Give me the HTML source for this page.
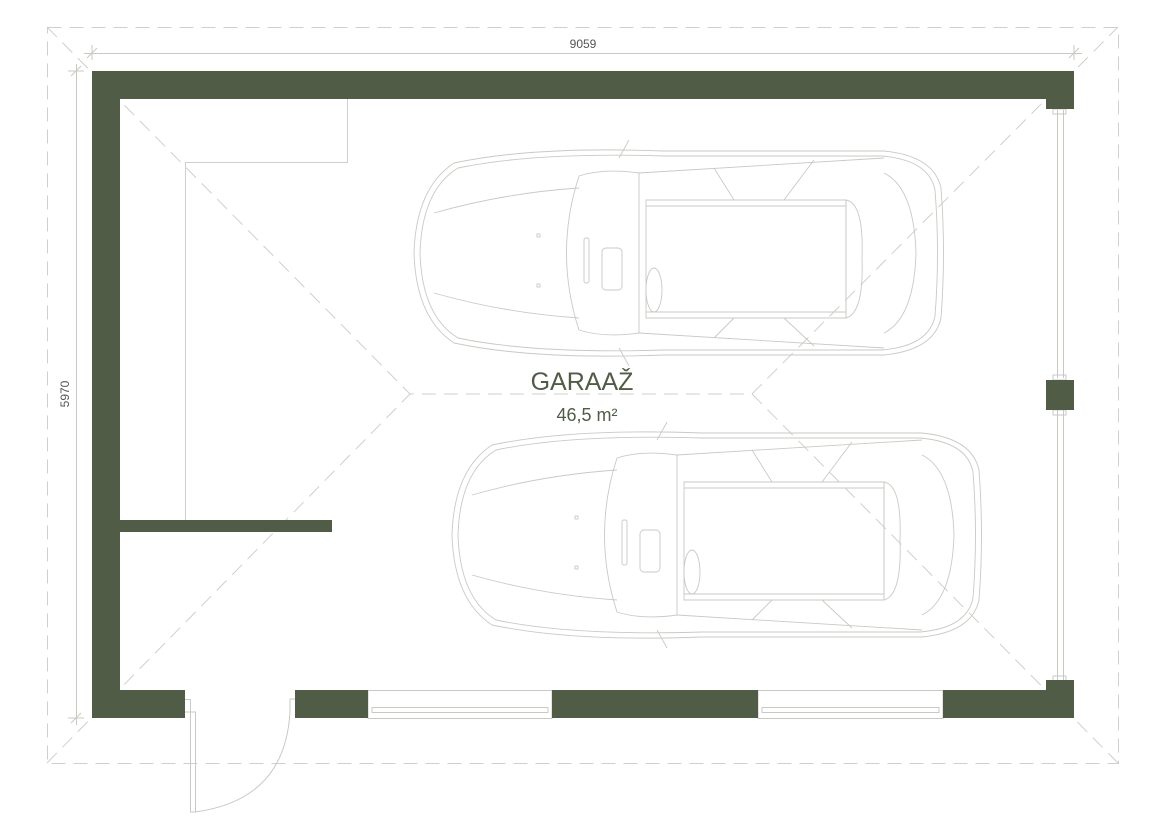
<!DOCTYPE html>
<html><head><meta charset="utf-8"><style>
html,body{margin:0;padding:0;background:#fff;}
svg{display:block;}
text{font-family:"Liberation Sans",sans-serif;}
</style></head><body>
<svg width="1157" height="826" viewBox="0 0 1157 826" xmlns="http://www.w3.org/2000/svg">
<defs>
<g id="car" fill="none" stroke="#c9c9c4" stroke-width="0.9">
  <path d="M40,15 Q120,-2 250,3 L470,3 Q520,8 527,40 Q532,105 527,170 Q520,202 470,207 L250,207 Q120,212 40,195 Q2,170 0,105 Q2,40 40,15 Z"/>
  <path d="M44,20 Q120,4 250,8 L468,8 Q515,12 521,42 Q526,105 521,168 Q515,198 468,202 L250,202 Q120,206 44,190 Q8,168 6,105 Q8,42 44,20 Z"/>
  <path d="M20,65 Q90,45 165,40 M20,145 Q90,165 165,170"/>
  <path d="M165,28 Q140,105 165,182 Q190,190 225,185 L225,25 Q190,20 165,28 Z"/>
  <path d="M232,52 L432,52 L432,170 L232,170 Z"/>
  <path d="M232,58 L432,58 M232,164 L432,164"/>
  <path d="M432,52 Q450,55 448,110 Q450,165 432,170 Z"/>
  <path d="M225,25 L470,10 M225,185 L470,200"/>
  <path d="M300,20 L320,52 M400,12 L370,52 M300,190 L320,170 M400,198 L370,170"/>
  <ellipse cx="240" cy="142" rx="8" ry="22"/>
  <rect x="188" y="100" width="20" height="42" rx="4"/>
  <rect x="170" y="90" width="5" height="45" rx="2"/>
  <path d="M205,10 L215,-8 M205,200 L215,218"/>
  <rect x="123" y="86" width="3" height="3"/><rect x="123" y="136" width="3" height="3"/>
  <path d="M470,25 Q500,40 502,105 Q500,170 470,185"/>
</g>
</defs>
<!-- outer dashed -->
<g stroke="#cfcfcb" stroke-width="1" fill="none" stroke-dasharray="14,8">
  <rect x="47.5" y="27.5" width="1071" height="736"/>
  <path d="M47,27 L410,394 L752,394 L1118,27 M47,763 L410,394 M752,394 L1118,763"/>
</g>
<!-- dims -->
<g stroke="#c9c9c4" stroke-width="1" fill="none">
  <path d="M84,53.5 L1082,53.5 M76.5,64 L76.5,725"/>
  <path d="M87,58 L97,48 M1069,58 L1079,48 M71,76 L81,66 M71,723 L81,713"/>
  <path d="M92,45 L92,60 M1074,45 L1074,60 M68,71 L84,71 M68,718 L84,718"/>
</g>
<text x="583" y="48" font-size="12" fill="#555" text-anchor="middle">9059</text>
<text x="0" y="0" font-size="12" fill="#555" text-anchor="middle" transform="translate(69,394) rotate(-90)">5970</text>
<!-- shelf -->
<g stroke="#cfcfcb" stroke-width="1" fill="none">
  <path d="M347.5,99 L347.5,162.5 L185.5,162.5 L185.5,520"/>
</g>
<!-- windows -->
<g stroke="#c9c9c4" stroke-width="1" fill="none">
  <rect x="368" y="690.5" width="184" height="28"/>
  <rect x="372" y="707.5" width="176" height="5"/>
  <rect x="758" y="690.5" width="185" height="28"/>
  <rect x="762" y="707.5" width="177" height="5"/>
  <path d="M1057.5,110 L1057.5,378 M1063.5,110 L1063.5,378 M1057.5,410 L1057.5,680 M1063.5,410 L1063.5,680"/>
  <rect x="1053" y="109" width="13" height="5"/><rect x="1053" y="375" width="13" height="5"/>
  <rect x="1053" y="410" width="13" height="5"/><rect x="1053" y="676" width="13" height="5"/>
  <!-- door -->
  <path d="M185,699.5 L190.5,699.5 L190.5,812 L195.5,812 L195.5,712 L185,712"/>
  <path d="M195,812 Q285,800 290,712 L290,699 L295,699"/>
</g>
<!-- walls -->
<g fill="#515c47">
  <rect x="92" y="71" width="982" height="28"/>
  <rect x="92" y="71" width="28" height="647"/>
  <rect x="1046" y="71" width="28" height="38"/>
  <rect x="1046" y="380" width="28" height="30"/>
  <rect x="1046" y="680" width="28" height="38"/>
  <rect x="92" y="690" width="93" height="28"/>
  <rect x="295" y="690" width="73" height="28"/>
  <rect x="552" y="690" width="206" height="28"/>
  <rect x="943" y="690" width="131" height="28"/>
  <rect x="120" y="520" width="212" height="12"/>
</g>
<use href="#car" x="414" y="148"/>
<use href="#car" x="452" y="430"/>
<text x="582" y="390" font-size="25" fill="#515c47" text-anchor="middle">GARAAŽ</text>
<text x="587" y="421" font-size="18" fill="#515c47" text-anchor="middle">46,5 m²</text>
</svg>
</body></html>
